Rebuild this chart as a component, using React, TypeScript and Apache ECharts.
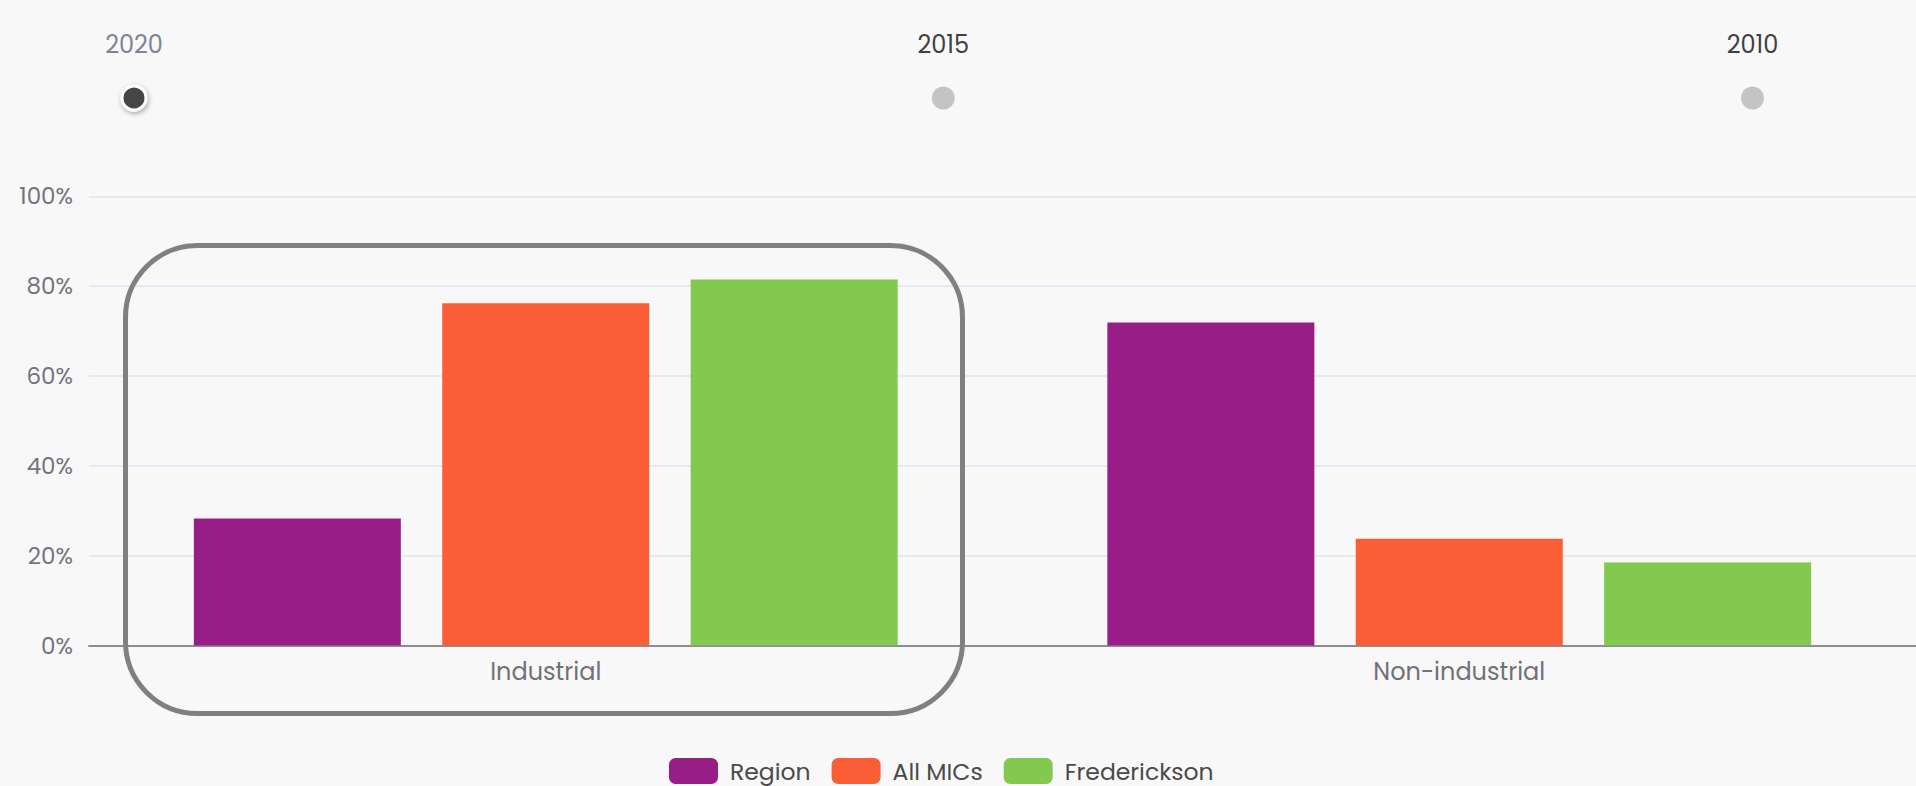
import React, { useEffect, useRef } from "react";
import * as echarts from "echarts";

const years = ["2020", "2015", "2010"];
const categories = ["Industrial", "Non-industrial"];
const seriesNames = ["Region", "All MICs", "Frederickson"];
const regionValues = [28.3, 71.9];
const allMicsValues = [76.2, 23.8];
const fredericksonValues = [81.5, 18.5];
const yTicks = [0, 20, 40, 60, 80, 100];

const colors = ["#981e87", "#f95e36", "#83c84f"];
const FONT = "Poppins, Inter, 'DejaVu Sans', sans-serif";

export default function App() {
  const ref = useRef<HTMLDivElement>(null);
  useEffect(() => {
    if (!ref.current) return;
    const chart = echarts.init(ref.current, undefined, { renderer: "svg" });
    const values = [regionValues, allMicsValues, fredericksonValues];
    chart.setOption({
      animation: false,
      backgroundColor: "#f8f8f8",
      textStyle: { fontFamily: FONT },
      timeline: {
        axisType: "category",
        data: years,
        currentIndex: 0,
        autoPlay: false,
        left: 134,
        right: 163.5,
        top: 60,
        height: 51.5,
        padding: 0,
        symbol: "circle",
        symbolSize: 23,
        lineStyle: { show: false },
        itemStyle: { color: "#c4c4c4", borderWidth: 0 },
        checkpointStyle: {
          symbol: "circle",
          symbolSize: 24,
          color: "#444444",
          borderColor: "#ffffff",
          borderWidth: 3,
          shadowBlur: 5,
          shadowColor: "rgba(0,0,0,0.35)",
          shadowOffsetX: 1,
          shadowOffsetY: 2,
          animation: false,
        },
        controlStyle: { show: false },
        label: { position: -42, color: "#404040", fontSize: 24, fontFamily: FONT },
        progress: {
          label: { color: "#7c8499", fontSize: 24, fontFamily: FONT },
          itemStyle: { color: "#c4c4c4" },
          lineStyle: { width: 0 },
        },
        emphasis: {
          label: { color: "#404040", fontSize: 24, fontFamily: FONT },
          itemStyle: { color: "#c4c4c4" },
        },
      },
      legend: {
        data: seriesNames,
        left: 669,
        top: 758,
        padding: 0,
        itemWidth: 49,
        itemHeight: 26,
        itemGap: 21,
        icon: "roundRect",
        textStyle: { color: "#4a4a4a", fontSize: 23.5, fontFamily: FONT, padding: [0, 0, 0, 7] },
      },
      grid: { left: 89, right: -3, top: 196.3, bottom: 140.4, containLabel: false },
      xAxis: {
        type: "category",
        data: categories,
        axisLine: { show: true, lineStyle: { color: "#8c8c92", width: 2 } },
        axisTick: { show: false },
        axisLabel: { color: "#707179", fontSize: 24, margin: 14, fontFamily: FONT },
        splitLine: { show: false },
      },
      yAxis: {
        type: "value",
        min: yTicks[0],
        max: yTicks[yTicks.length - 1],
        interval: yTicks[1] - yTicks[0],
        axisLine: { show: false },
        axisTick: { show: false },
        axisLabel: { formatter: "{value}%", color: "#74747c", fontSize: 23, margin: 16, fontFamily: FONT },
        splitLine: { lineStyle: { color: "#e1e4f2", width: 1.5 } },
      },
      series: seriesNames.map((name, i) => ({
        name,
        type: "bar",
        data: values[i],
        barWidth: 207,
        barGap: "20%",
        itemStyle: { color: colors[i] },
      })),
      graphic: [
        {
          type: "rect",
          z: 100,
          shape: { x: 125.5, y: 245.5, width: 837, height: 468, r: 72 },
          style: { fill: "none", stroke: "#808080", lineWidth: 5 },
        },
      ],
    });
    return () => chart.dispose();
  }, []);
  return (
    <div
      ref={ref}
      style={{ position: "fixed", left: 0, top: 0, width: 1916, height: 786 }}
    />
  );
}
